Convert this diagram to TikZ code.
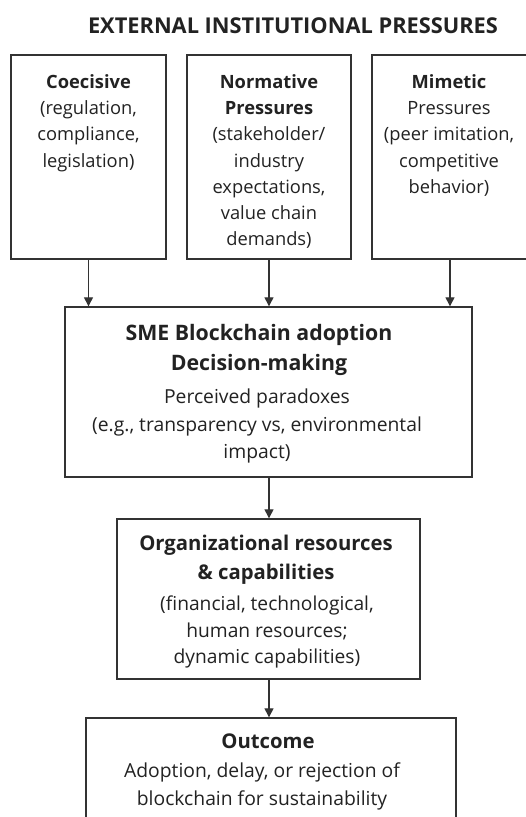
\documentclass[tikz,border=0pt]{standalone}
\usepackage{fontspec}
\setmainfont{Open Sans}
\usetikzlibrary{arrows.meta}
\definecolor{ink}{HTML}{222222}
\definecolor{edge}{HTML}{333333}
\begin{document}
\begin{tikzpicture}[x=1pt,y=-1pt,
  box/.style={draw=edge,line width=1.4pt,rectangle,inner sep=0pt},
  txt/.style={text=ink,align=center,anchor=north,inner sep=0pt,font=\fontsize{18.3}{26.3}\selectfont},
  bigtxt/.style={text=ink,align=center,anchor=north,inner sep=0pt,font=\fontsize{19.3}{27.5}\selectfont},
  arr/.style={draw=edge,line width=1.3pt,-{Triangle[length=9pt,width=9pt]}}]
\useasboundingbox (0,0) rectangle (526,817);
\clip (0,0) rectangle (526,817);
\fill[white] (0,0) rectangle (526,817);
\node[text=ink,font=\fontsize{21.8}{24}\selectfont\bfseries] (title) at (293,26) {EXTERNAL INSTITUTIONAL PRESSURES};
% top boxes
\node[box,minimum width=155pt,minimum height=204pt] (b1) at (88.5,157) {};
\node[box,minimum width=164pt,minimum height=204pt] (b2) at (269,157) {};
\node[box,minimum width=156pt,minimum height=204pt] (b3) at (450,157) {};
\node[txt] (t1) at (88.5,74) {\textbf{Coecisive}\\(regulation,\\compliance,\\legislation)};
\node[txt] (t2) at (269,74) {\textbf{Normative}\\\textbf{Pressures}\\(stakeholder/\\industry\\expectations,\\value chain\\demands)};
\node[txt] (t3) at (449,74) {\textbf{Mimetic}\\Pressures\\(peer imitation,\\competitive\\behavior)};
% middle
\node[box,minimum width=407pt,minimum height=170pt] (sme) at (268.5,392) {};
\node[bigtxt,font=\fontsize{21.3}{30}\selectfont\bfseries] (t4) at (259,324) {SME Blockchain adoption\\Decision-making};
\node[bigtxt] (t5) at (257,389) {Perceived paradoxes\\(e.g., transparency vs, environmental\\impact)};
\node[box,minimum width=303pt,minimum height=160pt] (org) at (268.5,599) {};
\node[bigtxt,font=\fontsize{20.3}{29}\selectfont\bfseries] (t6) at (266,535) {Organizational resources\\\& capabilities};
\node[txt,font=\fontsize{19.2}{26.5}\selectfont] (t7) at (267,596) {(financial, technological,\\human resources;\\dynamic capabilities)};
\node[box,minimum width=370pt,minimum height=160pt] (out) at (271,798) {};
\node[bigtxt,font=\fontsize{20.3}{29}\selectfont\bfseries] (t8) at (268,734) {Outcome};
\node[bigtxt] (t9) at (262,763) {Adoption, delay, or rejection of\\blockchain for sustainability};
% arrows
\draw[arr] (b1.south) -- (b1.south |- sme.north);
\draw[arr] (b2.south) -- (b2.south |- sme.north);
\draw[arr] (b3.south) -- (b3.south |- sme.north);
\draw[arr] (sme.south -| b2.south) -- (org.north -| b2.south);
\draw[arr] (org.south -| b2.south) -- (out.north -| b2.south);
\end{tikzpicture}
\end{document}
